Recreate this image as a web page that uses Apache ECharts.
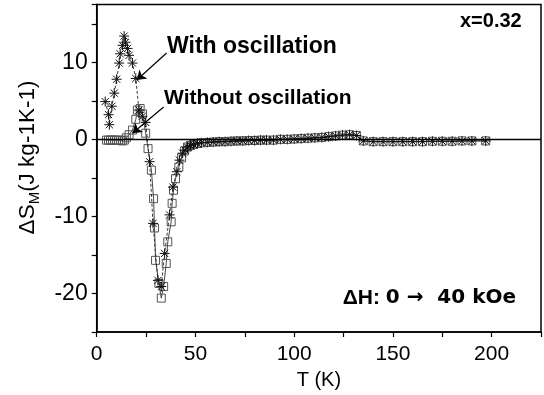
<!DOCTYPE html>
<html><head><meta charset="utf-8">
<script src="https://cdn.jsdelivr.net/npm/echarts@6/dist/echarts.min.js"></script>
<style>html,body{margin:0;padding:0;background:#fff}#c{width:544px;height:395px}</style>
</head><body><div id="c"></div>
<script>
// ---- tick labels ----
const xTickLabels = [0, 50, 100, 150, 200];
const yTickLabels = [-20, -10, 0, 10];

// ---- "With oscillation" (asterisks), low-T part ----
const starT = [4.3, 6.0, 6.4, 7.7, 8.9, 10.1, 11.4, 11.9, 13.1, 13.9, 14.6, 15.6, 16.4, 18.1, 19.8, 21.4, 23.1, 24.8, 26.8, 28.5, 31.0, 32.7, 34.4, 36.9, 38.6, 40.6, 41.9, 43.5, 44.8];
const starV = [4.9, 3.2, 1.9, 4.3, 6.0, 7.8, 9.9, 11.1, 12.2, 13.4, 12.6, 11.8, 10.9, 9.9, 7.9, 3.8, 3.0, 2.2, -2.9, -10.9, -18.3, -19.1, -14.8, -9.8, -6.2, -4.2, -2.7, -1.8, -1.4];

// ---- "Without oscillation" (squares), low-T part ----
const squareT = [5, 6, 7, 8, 9, 10, 11, 12, 13, 14, 15, 16.4, 18.1, 19.8, 20.6, 22.0, 23.2, 24.8, 26.0, 27.7, 28.8, 29.3, 29.8, 31.5, 32.7, 33.9, 35.2, 36.0, 37.7, 38.2, 38.9, 39.9, 41.6, 43.0, 44.5];
const squareV = [-0.1, -0.1, -0.1, -0.1, -0.1, -0.1, -0.1, -0.15, -0.2, -0.1, 0.2, 0.6, 1.2, 2.6, 3.8, 4.0, 3.3, 0.8, -1.2, -4.0, -7.7, -11.5, -15.7, -18.7, -20.6, -19.1, -16.1, -13.3, -10.7, -8.3, -6.6, -5.1, -3.6, -2.4, -1.5];

// ---- shared high-T tail (both series measured at the same T) ----
const tailT = [46, 47.5, 49, 51, 53, 56, 59, 62, 65, 68, 71, 74, 77, 80, 83, 86, 89.5, 93, 96.5, 100, 103.5, 107, 110.5, 114, 117.5, 121, 124.5, 128, 131.5, 135, 140, 145, 150, 155, 160, 165, 170, 175, 180, 185, 190, 197];
const tailStarV = [-1.0, -0.8, -0.65, -0.55, -0.45, -0.4, -0.35, -0.3, -0.3, -0.25, -0.2, -0.2, -0.15, -0.15, -0.1, -0.1, -0.1, 0.0, 0.0, 0.05, 0.1, 0.15, 0.2, 0.25, 0.35, 0.45, 0.55, 0.6, 0.5, -0.2, -0.3, -0.3, -0.3, -0.3, -0.3, -0.3, -0.25, -0.25, -0.25, -0.2, -0.2, -0.2];
const tailSquareV = [-1.0, -0.8, -0.65, -0.55, -0.45, -0.4, -0.35, -0.3, -0.3, -0.25, -0.2, -0.2, -0.15, -0.15, -0.1, -0.1, -0.1, 0.0, 0.0, 0.05, 0.1, 0.15, 0.2, 0.25, 0.35, 0.45, 0.55, 0.6, 0.5, -0.2, -0.3, -0.3, -0.3, -0.3, -0.3, -0.3, -0.25, -0.25, -0.25, -0.2, -0.2, -0.2];

// ---- annotation arrows (data coordinates: tail -> head) ----
const arrowWith = [[35.4, 11.2], [20.3, 7.7]];
const arrowWithout = [[33.9, 4.2], [18.1, 0.8]];

const FONT = 'Liberation Sans, Arial, sans-serif';
const starData = starT.map((t, i) => [t, starV[i]]).concat(tailT.map((t, i) => [t, tailStarV[i]]));
const squareData = squareT.map((t, i) => [t, squareV[i]]).concat(tailT.map((t, i) => [t, tailSquareV[i]]));

const asterisk = 'path://M0,-5L0,5M-5,0L5,0M-3.6,-3.6L3.6,3.6M-3.6,3.6L3.6,-3.6';

const chart = echarts.init(document.getElementById('c'), null, {renderer: 'canvas'});
chart.setOption({
  animation: false,
  backgroundColor: '#fff',
  grid: {left: 96.7, top: 4.5, width: 447, height: 327.5, show: true, borderColor: '#000', borderWidth: 1.5, backgroundColor: 'transparent'},
  xAxis: {
    type: 'value', min: 0, max: 225, interval: 25,
    axisLine: {show: true, onZero: false, lineStyle: {color: '#000', width: 1.5}},
    axisTick: {show: true, inside: false, length: 5, lineStyle: {color: '#000', width: 1.2}},
    axisLabel: {formatter: v => xTickLabels.includes(v) ? String(v) : '', fontSize: 21, color: '#000', margin: 12, fontFamily: FONT},
    splitLine: {show: false},
    name: 'T (K)', nameLocation: 'middle', nameGap: 38,
    nameTextStyle: {fontSize: 20, color: '#000', fontFamily: FONT}
  },
  yAxis: {
    type: 'value', min: -25, max: 17.5, interval: 5,
    axisLine: {show: true, onZero: false, lineStyle: {color: '#000', width: 1.5}},
    axisTick: {show: true, inside: false, length: 5, lineStyle: {color: '#000', width: 1.2}},
    axisLabel: {formatter: v => yTickLabels.includes(v) ? String(v) : '', fontSize: 23, color: '#000', margin: 9, fontFamily: FONT},
    splitLine: {show: false}
  },
  series: [
    {
      name: 'Without oscillation', type: 'line', data: squareData,
      symbol: 'rect', symbolSize: 8, showAllSymbol: true,
      itemStyle: {color: 'none', borderColor: '#555', borderWidth: 1},
      lineStyle: {color: '#333', width: 0.9},
      markLine: {
        silent: true, symbol: ['none', 'none'], label: {show: false},
        lineStyle: {color: '#000', width: 1.3, type: 'solid'},
        data: [{yAxis: 0}]
      },
      z: 3
    },
    {
      name: 'With oscillation', type: 'line', data: starData,
      symbol: asterisk, symbolSize: 10, showAllSymbol: true,
      itemStyle: {color: 'none', borderColor: '#111', borderWidth: 1},
      lineStyle: {color: '#222', width: 0.9, type: [3, 2]},
      markLine: {
        silent: true, symbol: ['none', 'arrow'], symbolSize: 9, label: {show: false},
        lineStyle: {color: '#000', width: 1.2, type: 'solid'},
        data: [
          [{coord: arrowWith[0]}, {coord: arrowWith[1]}],
          [{coord: arrowWithout[0]}, {coord: arrowWithout[1]}]
        ]
      },
      z: 4
    }
  ],
  graphic: [
    {type: 'text', x: 28, y: 157.5, rotation: Math.PI / 2,
     style: {text: '{a|ΔS}{s|M}{a|(J kg-1K-1)}', align: 'center', verticalAlign: 'middle', textAlign: 'center', textVerticalAlign: 'middle', fill: '#000',
       rich: {a: {fontSize: 22.5, fontFamily: FONT, lineHeight: 28, verticalAlign: 'middle'},
              s: {fontSize: 15, fontFamily: FONT, lineHeight: 17, verticalAlign: 'bottom'}}}},
    {type: 'text', x: 521.7, y: 21.7,
     style: {text: 'x=0.32', font: 'bold 20px ' + FONT, fill: '#000', align: 'right', verticalAlign: 'middle', textAlign: 'right', textVerticalAlign: 'middle'}},
    {type: 'text', x: 167, y: 47,
     style: {text: 'With oscillation', font: 'bold 23px ' + FONT, fill: '#000', align: 'left', verticalAlign: 'middle', textAlign: 'left', textVerticalAlign: 'middle'}},
    {type: 'text', x: 164, y: 98,
     style: {text: 'Without oscillation', font: 'bold 21px ' + FONT, fill: '#000', align: 'left', verticalAlign: 'middle', textAlign: 'left', textVerticalAlign: 'middle'}},
    {type: 'text', x: 516, y: 298,
     style: {text: '{h|ΔH: }{b|0 →  40 kOe}', align: 'right', verticalAlign: 'middle', textAlign: 'right', textVerticalAlign: 'middle', fill: '#000',
       rich: {h: {fontFamily: FONT, fontWeight: 'bold', fontSize: 21}, b: {fontFamily: 'DejaVu Sans', fontWeight: 'bold', fontSize: 20}}}}
  ]
});
</script>
</body></html>
